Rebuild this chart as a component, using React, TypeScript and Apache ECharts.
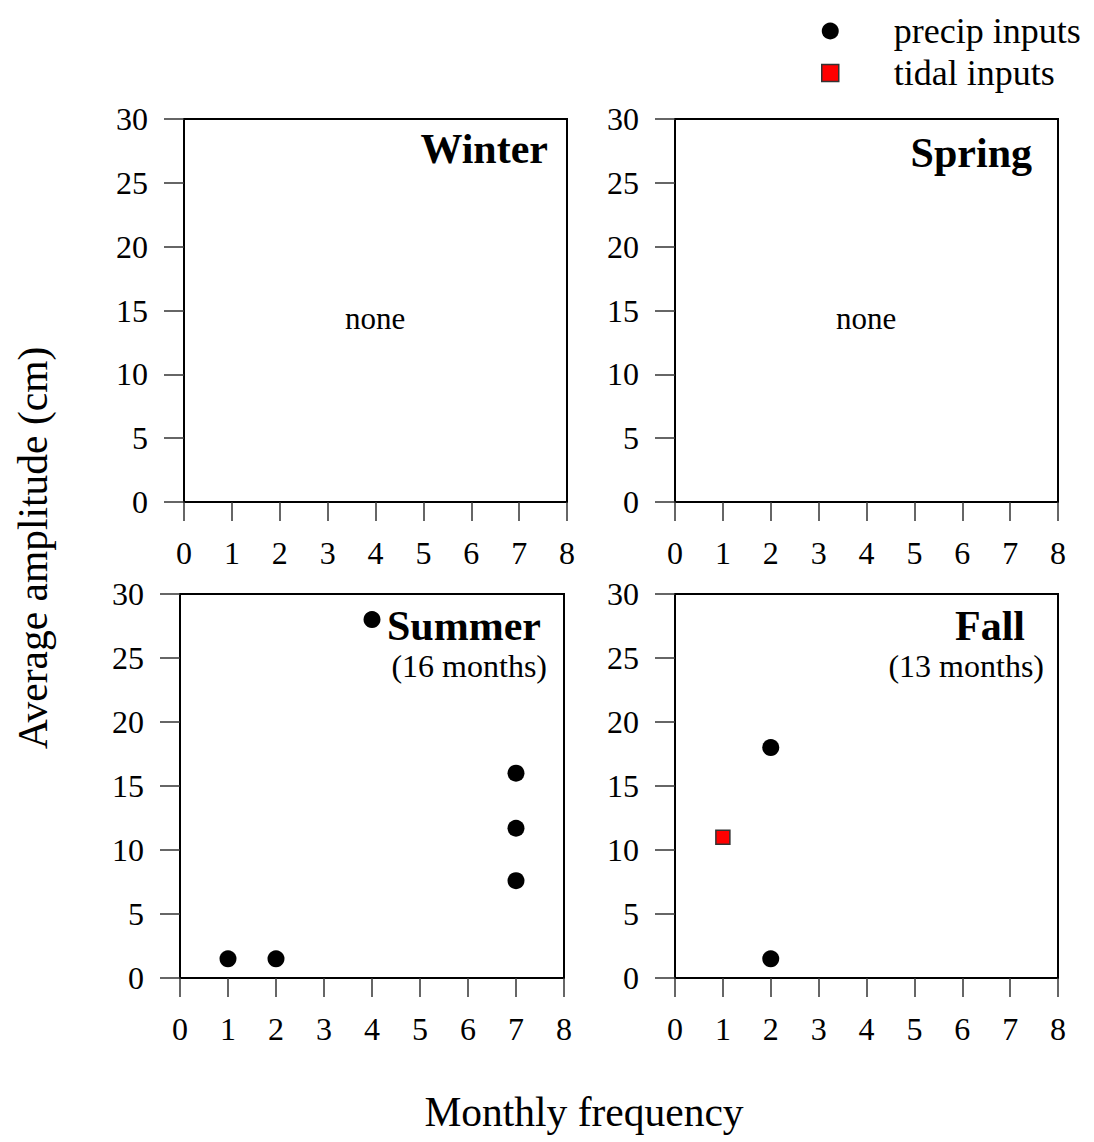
import React, { useEffect, useRef } from "react";
import * as echarts from "echarts";

const FONT = "'Liberation Serif', 'Times New Roman', serif";

const panelNames = ["Winter", "Spring", "Summer", "Fall"];
const panelSubtitles = ["", "", "(16 months)", "(13 months)"];
const xTicks = [0, 1, 2, 3, 4, 5, 6, 7, 8];
const yTicks = [0, 5, 10, 15, 20, 25, 30];

// [frequency, amplitude]
const summerPrecip: [number, number][] = [
  [1, 1.5],
  [2, 1.5],
  [4, 28],
  [7, 16],
  [7, 11.7],
  [7, 7.6],
];
const fallPrecip: [number, number][] = [
  [2, 18],
  [2, 1.5],
];
const fallTidal: [number, number][] = [[1, 11]];

const grids = [
  { left: 184, top: 119, width: 383, height: 383 },
  { left: 675, top: 119, width: 383, height: 383 },
  { left: 180, top: 594, width: 384, height: 384 },
  { left: 675, top: 594, width: 383, height: 384 },
];

export default function App() {
  const ref = useRef<HTMLDivElement>(null);
  useEffect(() => {
    if (!ref.current) return;
    const chart = echarts.init(ref.current, undefined, { renderer: "svg" });

    const xAxes = grids.map((_, i) => ({
      gridIndex: i,
      type: "value",
      min: xTicks[0],
      max: xTicks[xTicks.length - 1],
      interval: 1,
      axisLine: { show: true, onZero: false, lineStyle: { color: "#000", width: 2 } },
      axisTick: { show: true, inside: false, length: 19, lineStyle: { color: "#333", width: 1.5 } },
      axisLabel: { margin: 35, fontSize: 32, color: "#000", fontFamily: FONT },
      splitLine: { show: false },
    }));
    const yAxes = grids.map((_, i) => ({
      gridIndex: i,
      type: "value",
      min: yTicks[0],
      max: yTicks[yTicks.length - 1],
      interval: 5,
      axisLine: { show: true, onZero: false, lineStyle: { color: "#000", width: 2 } },
      axisTick: { show: true, inside: false, length: 20, lineStyle: { color: "#333", width: 1.5 } },
      axisLabel: { margin: 36, fontSize: 32, color: "#000", fontFamily: FONT },
      splitLine: { show: false },
    }));

    const titlePos = [
      { x: 548, y: 149, sx: 0, sy: 0 },
      { x: 1032, y: 153, sx: 0, sy: 0 },
      { x: 541, y: 626, sx: 547, sy: 666 },
      { x: 1025, y: 626, sx: 1044, sy: 666 },
    ];
    const graphics: any[] = [];
    panelNames.forEach((n, i) => {
      graphics.push({
        type: "text",
        x: titlePos[i].x,
        y: titlePos[i].y,
        style: {
          text: n,
          align: "right",
          verticalAlign: "middle",
          font: `bold 42px ${FONT}`,
          fill: "#000",
        },
      });
      if (panelSubtitles[i]) {
        graphics.push({
          type: "text",
          x: titlePos[i].sx,
          y: titlePos[i].sy,
          style: {
            text: panelSubtitles[i],
            align: "right",
            verticalAlign: "middle",
            font: `32px ${FONT}`,
            fill: "#000",
          },
        });
      }
    });
    [
      [375, 318],
      [866, 318],
    ].forEach(([x, y]) => {
      graphics.push({
        type: "text",
        x,
        y,
        style: { text: "none", align: "center", verticalAlign: "middle", font: `31px ${FONT}`, fill: "#000" },
      });
    });
    graphics.push({
      type: "text",
      x: 33,
      y: 548,
      rotation: Math.PI / 2,
      style: {
        text: "Average amplitude (cm)",
        align: "center",
        verticalAlign: "middle",
        font: `41.5px ${FONT}`,
        fill: "#000",
      },
    });
    graphics.push({
      type: "text",
      x: 584,
      y: 1112,
      style: {
        text: "Monthly frequency",
        align: "center",
        verticalAlign: "middle",
        font: `41.5px ${FONT}`,
        fill: "#000",
      },
    });

    const precipStyle = { color: "#000", opacity: 1 };
    chart.setOption({
      animation: false,
      backgroundColor: "#fff",
      grid: grids.map((g) => ({
        ...g,
        show: true,
        borderColor: "#000",
        borderWidth: 2,
        backgroundColor: "transparent",
      })),
      xAxis: xAxes,
      yAxis: yAxes,
      legend: {
        orient: "vertical",
        left: 816,
        top: 8,
        itemWidth: 17,
        itemHeight: 17,
        itemGap: 6,
        textStyle: { fontSize: 36, fontFamily: FONT, color: "#000", padding: [0, 0, 0, 50] },
        data: [
          { name: "precip inputs", icon: "circle", itemStyle: { color: "#000", opacity: 1 } },
          { name: "tidal inputs", icon: "rect", itemStyle: { color: "#ff0000", borderColor: "#333", borderWidth: 1.5, opacity: 1 } },
        ],
      },
      graphic: graphics,
      series: [
        {
          name: "precip inputs",
          type: "scatter",
          xAxisIndex: 2,
          yAxisIndex: 2,
          symbol: "circle",
          symbolSize: 17,
          itemStyle: precipStyle,
          data: summerPrecip,
        },
        {
          name: "precip inputs",
          type: "scatter",
          xAxisIndex: 3,
          yAxisIndex: 3,
          symbol: "circle",
          symbolSize: 17,
          itemStyle: precipStyle,
          data: fallPrecip,
        },
        {
          name: "tidal inputs",
          type: "scatter",
          xAxisIndex: 3,
          yAxisIndex: 3,
          symbol: "rect",
          symbolSize: 14,
          itemStyle: { color: "#ff0000", borderColor: "#333", borderWidth: 1.5, opacity: 1 },
          data: fallTidal,
        },
      ],
    });
    return () => chart.dispose();
  }, []);
  return (
    <div
      ref={ref}
      style={{ position: "fixed", left: 0, top: 0, width: 1094, height: 1142 }}
    />
  );
}
